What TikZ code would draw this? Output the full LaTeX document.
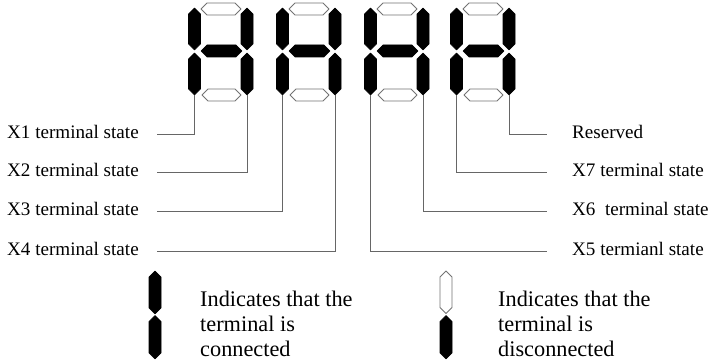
\documentclass[tikz,border=0pt]{standalone}
\usepackage{fontspec}
\setmainfont{Liberation Serif}
\begin{document}
\begin{tikzpicture}[x=1pt,y=-1pt,
  lit/.style={fill=black,draw=black,line width=0.6pt,line join=round},
  unlit/.style={fill=white,draw=black!55,line width=0.9pt,line join=round},
  wire/.style={draw=black!60,line width=1pt},
  lbl/.style={anchor=base west,inner sep=0pt,font=\fontsize{19.1}{20}\selectfont},
  note/.style={anchor=base west,inner sep=0pt,align=left,font=\fontsize{22.3}{25}\selectfont}]
\useasboundingbox (0,0) rectangle (710,363);

% horizontal segment: x-from, x-to, y-centre, style
\newcommand{\hseg}[4]{\path[#4] (#1,#3) -- ({#1+6},{#3-6}) -- ({#2-6},{#3-6})
  -- (#2,#3) -- ({#2-6},{#3+6}) -- ({#1+6},{#3+6}) -- cycle;}
% vertical segment: x-centre, y-from, y-to, style
\newcommand{\vseg}[4]{\path[#4] (#1,#2) -- ({#1+6},{#2+6}) -- ({#1+6},{#3-6})
  -- (#1,#3) -- ({#1-6},{#3-6}) -- ({#1-6},{#2+6}) -- cycle;}

% four digit displays: top and bottom segments dark, the rest lit
\foreach \xo in {188,276,364,450}{
  \pgfmathsetmacro{\xl}{\xo+6.5}
  \pgfmathsetmacro{\xr}{\xo+59}
  \hseg{\xo+13}{\xo+53}{9}{unlit}
  \hseg{\xo+13}{\xo+54}{51}{lit}
  \hseg{\xo+14}{\xo+53}{95}{unlit}
  \vseg{\xl}{8}{50}{lit}
  \vseg{\xl}{53}{95}{lit}
  \vseg{\xr}{8}{50}{lit}
  \vseg{\xr}{53}{95}{lit}
}

% segment pins feeding the terminal labels
\coordinate (p1) at (194.5,95);
\coordinate (p2) at (247,95);
\coordinate (p3) at (282.5,95);
\coordinate (p4) at (335,95);
\coordinate (p5) at (370.5,95);
\coordinate (p6) at (423,95);
\coordinate (p7) at (456.5,95);
\coordinate (p8) at (509,95);

% free ends of the leader lines
\coordinate (a1) at (157,135);
\coordinate (a2) at (157,173);
\coordinate (a3) at (157,212);
\coordinate (a4) at (157,252);
\coordinate (b1) at (547,135);
\coordinate (b2) at (547,173);
\coordinate (b3) at (547,212);
\coordinate (b4) at (547,252);

\draw[wire] (p1) |- (a1);
\draw[wire] (p2) |- (a2);
\draw[wire] (p3) |- (a3);
\draw[wire] (p4) |- (a4);
\draw[wire] (p5) |- (b4);
\draw[wire] (p6) |- (b3);
\draw[wire] (p7) |- (b2);
\draw[wire] (p8) |- (b1);

% terminal labels
\node[lbl] (l1) at (7,139) {X1 terminal state};
\node[lbl] (l2) at (7,177) {X2 terminal state};
\node[lbl] (l3) at (7,216) {X3 terminal state};
\node[lbl] (l4) at (7,256) {X4 terminal state};
\node[lbl] (r1) at (572,139) {Reserved};
\node[lbl] (r2) at (572,177) {X7 terminal state};
\node[lbl] (r3) at (572,216) {X6\ \ terminal state};
\node[lbl] (r4) at (572,256) {X5 termianl state};

% legend (node base sits on the last line)
\vseg{155}{271}{314}{lit}
\vseg{155}{315.5}{359}{lit}
\node[note] (n1) at (200,357) {Indicates that the\\terminal is\\connected};

\vseg{446}{271}{313.5}{unlit}
\vseg{446}{315.5}{359}{lit}
\node[note] (n2) at (498,357) {Indicates that the\\terminal is\\disconnected};
\end{tikzpicture}
\end{document}
